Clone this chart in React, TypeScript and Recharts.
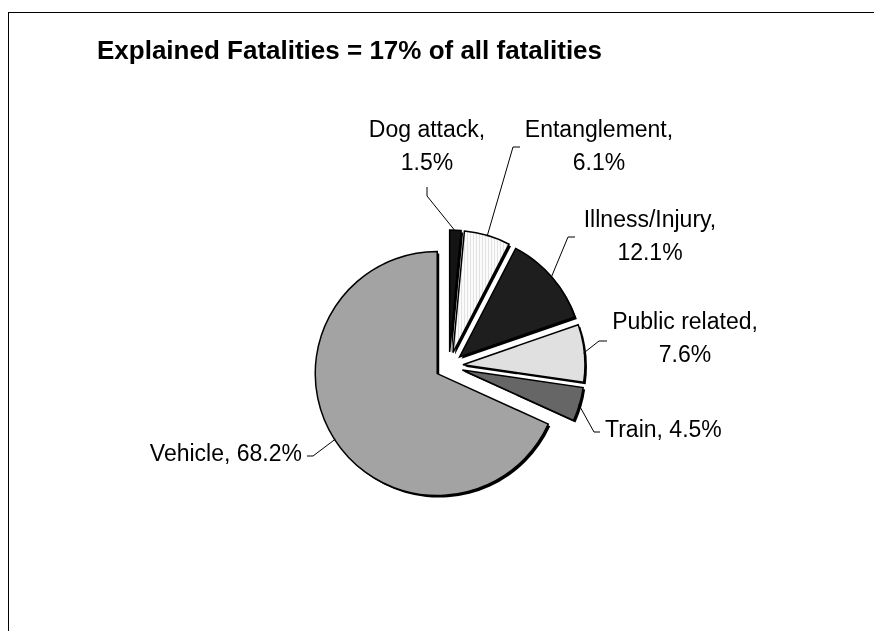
import React from 'react';
import { PieChart, Pie, Cell, Sector } from 'recharts';

const categories = ['Dog attack', 'Entanglement', 'Illness/Injury', 'Public related', 'Train', 'Vehicle'];
const shares = [1.5, 6.1, 12.1, 7.6, 4.5, 68.2];
const fills = ['#141414', 'url(#entPattern)', '#1e1e1e', '#e0e0e0', '#666666', '#a3a3a3'];

const data = categories.map((name, i) => ({ name, value: shares[i] }));

const RAD = Math.PI / 180;
const EXPLODE = 14;
const FONT = '"Liberation Sans", Arial, sans-serif';

// hand placed labels like the Excel original, offsets from the pie centre
const labelLayout = [
  { x: -22, y: -229, anchor: 'middle', twoLines: true, line: [[-22, -170], [-22, -179]] },
  { x: 150, y: -229, anchor: 'middle', twoLines: true, line: [[64, -219], [71, -219]] },
  { x: 201, y: -139, anchor: 'middle', twoLines: true, line: [[119, -129], [126, -129]] },
  { x: 236, y: -37, anchor: 'middle', twoLines: true, line: [[150, -25], [158, -25]] },
  { x: 156, y: 71, anchor: 'start', twoLines: false, line: [[145, 66], [151, 66]] },
  { x: -147, y: 95, anchor: 'end', twoLines: false, line: [[-136, 90], [-142, 90]] },
];

const ExplodedSector = (props: any) => {
  const { cx, cy, midAngle, innerRadius, outerRadius, startAngle, endAngle, fill } = props;
  const ox = cx + EXPLODE * Math.cos(-midAngle * RAD);
  const oy = cy + EXPLODE * Math.sin(-midAngle * RAD);
  return (
    <g>
      <Sector cx={ox + 2} cy={oy + 2} innerRadius={innerRadius} outerRadius={outerRadius}
        startAngle={startAngle} endAngle={endAngle} fill="#000" />
      <Sector cx={ox} cy={oy} innerRadius={innerRadius} outerRadius={outerRadius}
        startAngle={startAngle} endAngle={endAngle} fill={fill} stroke="#000" strokeWidth={1.5} />
    </g>
  );
};

const renderLabel = (props: any) => {
  const { cx, cy, midAngle, outerRadius, index } = props;
  const lay = labelLayout[index];
  const cos = Math.cos(-midAngle * RAD);
  const sin = Math.sin(-midAngle * RAD);
  const sx = cx + (EXPLODE + outerRadius - 1) * cos;
  const sy = cy + (EXPLODE + outerRadius - 1) * sin;
  const pts = [[sx, sy], ...lay.line.map(([x, y]) => [cx + x, cy + y])];
  const pct = `${shares[index].toFixed(1)}%`;
  return (
    <g>
      <polyline points={pts.map((p) => p.join(',')).join(' ')} fill="none" stroke="#000" strokeWidth={1} />
      {lay.twoLines ? (
        <text x={cx + lay.x} y={cy + lay.y} textAnchor={lay.anchor} fontFamily={FONT} fontSize={23} fill="#000">
          <tspan x={cx + lay.x}>{categories[index]},</tspan>
          <tspan x={cx + lay.x} dy={33}>{pct}</tspan>
        </text>
      ) : (
        <text x={cx + lay.x} y={cy + lay.y} textAnchor={lay.anchor} fontFamily={FONT} fontSize={23} fill="#000">
          {categories[index]}, {pct}
        </text>
      )}
    </g>
  );
};

export default function App() {
  return (
    <div style={{ position: 'relative', width: 858, height: 615, overflow: 'hidden', fontFamily: FONT }}>
      {/* chart frame runs off the page on the right and bottom */}
      <div style={{ position: 'fixed', left: 8, top: 12, width: 2000, height: 2000, borderLeft: '1px solid #000', borderTop: '1px solid #000' }} />
      <div style={{ position: 'absolute', left: 89, top: 29, fontSize: 26, lineHeight: '26px', fontWeight: 'bold', whiteSpace: 'nowrap' }}>
        Explained Fatalities = 17% of all fatalities
      </div>
      <div style={{ position: 'absolute', left: 0, top: 0 }}>
        <PieChart width={858} height={615}>
          <defs>
            <pattern id="entPattern" width="3" height="3" patternUnits="userSpaceOnUse">
              <rect width="3" height="3" fill="#fbfbfb" />
              <line x1="0.5" y1="0" x2="0.5" y2="3" stroke="#e2e2e2" strokeWidth={1} />
            </pattern>
          </defs>
          <Pie
            data={data}
            dataKey="value"
            nameKey="name"
            cx={436}
            cy={353}
            outerRadius={122}
            startAngle={90}
            endAngle={-270}
            shape={ExplodedSector}
            label={renderLabel}
            labelLine={false}
            isAnimationActive={false}
          >
            {data.map((d, i) => (
              <Cell key={d.name} fill={fills[i]} />
            ))}
          </Pie>
        </PieChart>
      </div>
    </div>
  );
}
